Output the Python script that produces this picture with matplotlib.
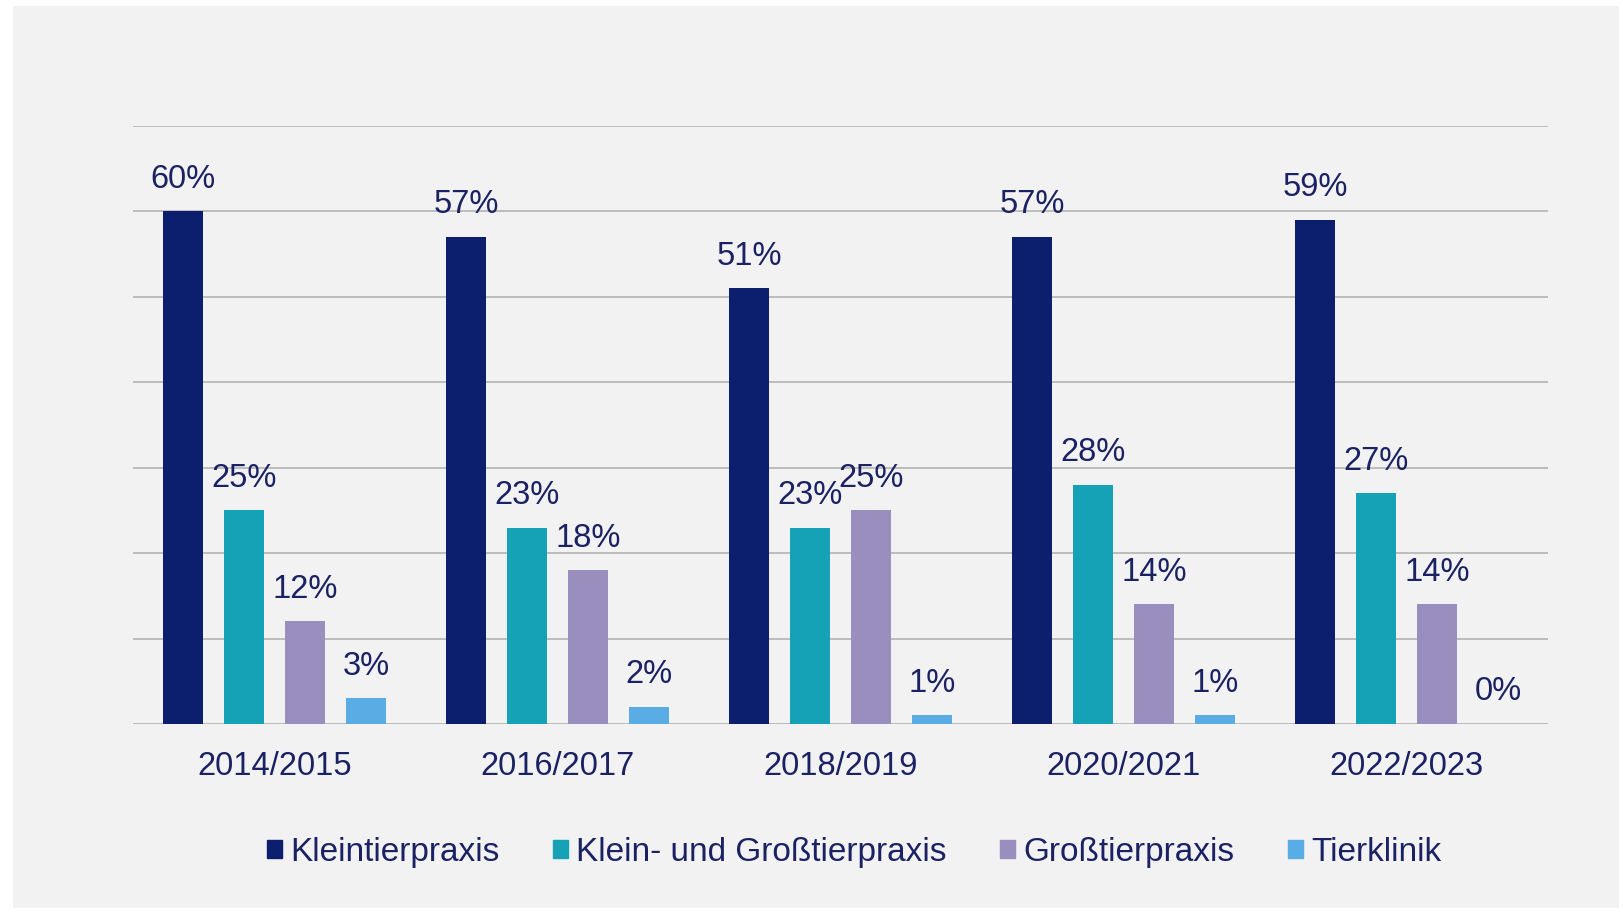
import matplotlib
matplotlib.use("Agg")
import matplotlib.pyplot as plt
import numpy as np
from matplotlib.patches import Rectangle

plt.rcParams['font.family'] = ['Liberation Sans', 'DejaVu Sans']

categories = ["2014/2015", "2016/2017", "2018/2019", "2020/2021", "2022/2023"]
series_names = ["Kleintierpraxis", "Klein- und Großtierpraxis", "Großtierpraxis", "Tierklinik"]
kleintier = [60, 57, 51, 57, 59]
klein_gross = [25, 23, 23, 28, 27]
gross = [12, 18, 25, 14, 14]
tierklinik = [3, 2, 1, 1, 0]
series = [kleintier, klein_gross, gross, tierklinik]
colors = ["#0b1f6e", "#16a2b6", "#9a8ebf", "#5aade4"]
text_color = "#1b2263"

W, H = 1624, 913
fig = plt.figure(figsize=(W / 100, H / 100), dpi=100, facecolor="white")
fig.patches.append(Rectangle((13 / W, 1 - 908 / H), (1619 - 13) / W, (908 - 6) / H,
                             transform=fig.transFigure, facecolor="#f2f2f2",
                             edgecolor="none", zorder=-10))

ax = fig.add_axes([133 / W, 1 - 724 / H, (1548 - 133) / W, (724 - 126) / H])
ax.set_facecolor("none")

x = np.arange(len(categories))
pitch = 61 / 283
width = 40 / 283
for i, (vals, col) in enumerate(zip(series, colors)):
    pos = x + (i - 1.5) * pitch
    ax.bar(pos, vals, width=width, color=col, zorder=3, label=series_names[i])
    for p, v in zip(pos, vals):
        ax.annotate(f"{v}%", (p, v), xytext=(0, 12), textcoords="offset points",
                    ha="center", va="bottom", fontsize=23.5, color=text_color)

ax.set_xlim(-0.5, len(categories) - 0.5)
ax.set_ylim(0, 70)
ax.set_yticks(np.arange(0, 71, 10))
ax.yaxis.grid(True, color="#b3b3b3", linewidth=1.2, zorder=0)
ax.tick_params(axis="y", left=False, labelleft=False)
ax.set_xticks(x)
ax.set_xticklabels(categories, fontsize=23.5, color=text_color)
ax.tick_params(axis="x", bottom=False, pad=16)
for s in ax.spines.values():
    s.set_visible(False)

handles = [Rectangle((0, 0), 1, 1, color=c) for c in colors]
fig.legend(handles, series_names, loc="center", ncol=4,
           bbox_to_anchor=(854 / W, 1 - 852 / H), frameon=False,
           fontsize=24, labelcolor=text_color, handlelength=0.45, handleheight=0.45,
           handletextpad=0.25, columnspacing=1.6)

fig.savefig("out.png", dpi=100, facecolor="white")
